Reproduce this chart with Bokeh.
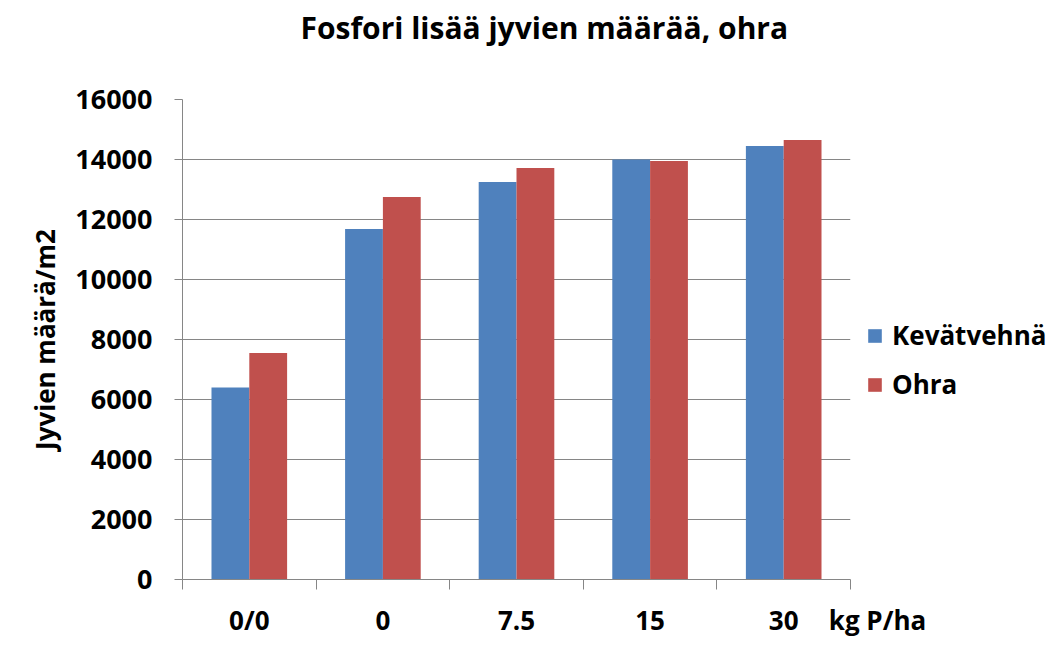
import numpy as np
from bokeh.plotting import figure
from bokeh.models import (Range1d, FixedTicker, CustomJSTickFormatter, Title,
                          Legend, LegendItem, ColumnDataSource)
from bokeh.embed import file_html
from bokeh.resources import INLINE

# ---- data ----
categories = ["0/0", "0", "7.5", "15", "30"]
kevatvehna = [6400, 11680, 13250, 14000, 14450]
ohra = [7550, 12750, 13720, 13950, 14650]
y_ticks = [0, 2000, 4000, 6000, 8000, 10000, 12000, 14000, 16000]
series_names = ["Kevätvehnä", "Ohra"]
title_text = "Fosfori lisää jyvien määrää, ohra"
y_label = "Jyvien määrä/m2"
x_label = "kg P/ha"

FONT = "Open Sans"
GRID = "#868686"
BLUE = "#4F81BD"
RED = "#C0504D"

n = len(categories)
pos = np.arange(n) + 0.5
bar_w = 0.283

src = ColumnDataSource(dict(
    x1=pos - bar_w / 2, x2=pos + bar_w / 2, kv=kevatvehna, oh=ohra))

p = figure(frame_width=668, frame_height=480,
           min_border_left=182, min_border_right=199,
           min_border_top=99, min_border_bottom=70,
           x_range=Range1d(0, n), y_range=Range1d(0, y_ticks[-1]),
           output_backend="svg", toolbar_location=None, title=None)

r1 = p.vbar(x="x1", top="kv", width=bar_w, source=src, fill_color=BLUE, line_color=None)
r2 = p.vbar(x="x2", top="oh", width=bar_w, source=src, fill_color=RED, line_color=None)

p.outline_line_color = None
p.background_fill_color = "white"
p.border_fill_color = "white"

# title: a blank spacer next to the frame, then the real title on top
p.add_layout(Title(text=" ", text_font_size="10px", standoff=36), "above")
p.add_layout(Title(text=title_text, text_font=FONT, text_font_style="bold",
                   text_font_size="30px", align="left", offset=118,
                   standoff=6, text_color="black"), "above")

# grid
p.xgrid.grid_line_color = None
p.ygrid.grid_line_color = GRID
p.ygrid.grid_line_width = 1
p.ygrid.ticker = FixedTicker(ticks=y_ticks)

# y axis
ya = p.yaxis[0]
ya.ticker = FixedTicker(ticks=y_ticks)
ya.axis_line_color = GRID
ya.major_tick_line_color = GRID
ya.major_tick_out = 8
ya.major_tick_in = 0
ya.minor_tick_line_color = None
ya.major_label_standoff = 22
ya.major_label_text_font = FONT
ya.major_label_text_font_style = "bold"
ya.major_label_text_font_size = "27px"
ya.major_label_text_color = "black"
ya.axis_label = y_label
ya.axis_label_text_font = FONT
ya.axis_label_text_font_style = "bold"
ya.axis_label_text_font_size = "26px"
ya.axis_label_text_color = "black"
ya.axis_label_standoff = 9

# x axis: labels at category centres, ticks at category boundaries,
# the unit label sits at the right end of the axis
xa = p.xaxis[0]
xa.ticker = FixedTicker(ticks=list(pos) + [float(n)],
                        minor_ticks=list(np.arange(n + 1)))
xa.formatter = CustomJSTickFormatter(
    args=dict(cats=categories, unit=x_label),
    code="""
const i = Math.floor(tick);
if (i < cats.length) { return cats[i]; }
return '\\u00a0\\u00a0\\u00a0\\u00a0\\u00a0\\u00a0\\u00a0\\u00a0' + unit;
""")
xa.axis_line_color = GRID
xa.major_tick_line_color = None
xa.major_tick_out = 0
xa.major_tick_in = 0
xa.minor_tick_line_color = GRID
xa.minor_tick_out = 10
xa.minor_tick_in = 0
xa.major_label_standoff = 12
xa.major_label_text_font = FONT
xa.major_label_text_font_style = "bold"
xa.major_label_text_font_size = "26px"
xa.major_label_text_color = "black"

# legend, in the right-hand panel
legend = Legend(items=[LegendItem(label=series_names[0], renderers=[r1]),
                       LegendItem(label=series_names[1], renderers=[r2])],
                location=(16, 177), orientation="vertical",
                glyph_width=17, glyph_height=17, label_standoff=9,
                spacing=13, padding=0, margin=0,
                border_line_color=None, background_fill_alpha=0,
                label_text_font=FONT, label_text_font_style="bold",
                label_text_font_size="26px", label_text_color="black")
p.add_layout(legend, "right")

open("out.html", "w").write(file_html(p, INLINE))
